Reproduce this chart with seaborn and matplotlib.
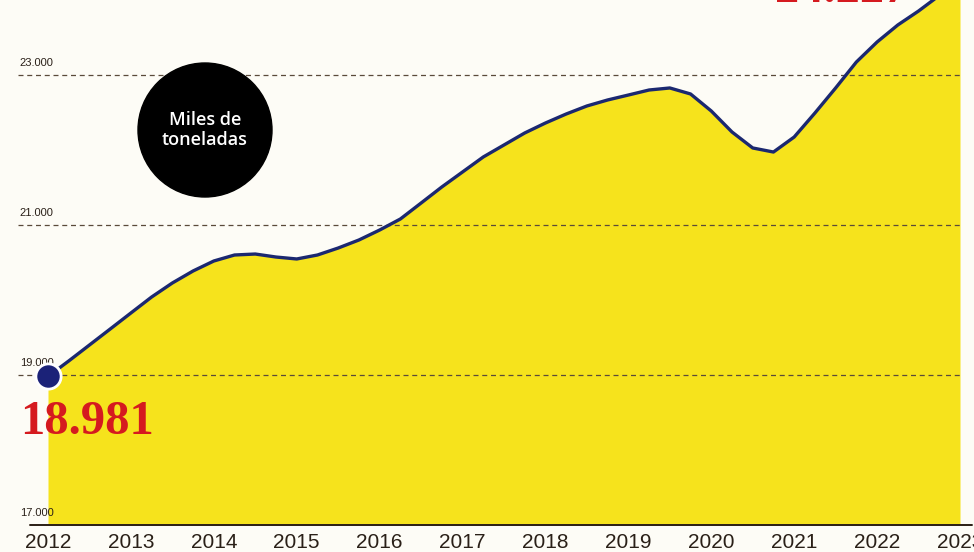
import numpy as np
import matplotlib.pyplot as plt
import seaborn as sns
import pandas as pd
from matplotlib.patches import Circle
from matplotlib.lines import Line2D

# quarter-year steps (miles de toneladas)
years = [2012.0 + 0.25 * i for i in range(45)]
values = [18981, 19187, 19400, 19613, 19827, 20040, 20227, 20387,
          20520, 20600, 20613, 20573, 20547, 20600, 20693, 20800,
          20933, 21080, 21293, 21507, 21707, 21907, 22067, 22227,
          22360, 22480, 22587, 22667, 22733, 22800, 22827, 22747,
          22520, 22240, 22027, 21973, 22173, 22493, 22827, 23173,
          23440, 23667, 23853, 24060, 24227]
tick_years = list(range(2012, 2024))
grid_vals = [17000, 19000, 21000, 23000]
grid_labels = ["17.000", "19.000", "21.000", "23.000"]
first_label = "18.981"
last_label = "24.227"

sns.set_style("white")
plt.rcParams['font.family'] = ['Open Sans', 'DejaVu Sans']

df = pd.DataFrame({"year": years, "value": values})

bg = "#fdfcf6"
fig = plt.figure(figsize=(9.74, 5.52), dpi=100, facecolor=bg)
ax = fig.add_axes([48 / 974, 27 / 552, 912 / 974, 525 / 552])
ax.set_facecolor(bg)

ax.fill_between(df["year"], df["value"], 17000, color="#f6e31c", lw=0, zorder=1)
sns.lineplot(data=df, x="year", y="value", ax=ax, color="#1b2870", lw=2.4,
             zorder=3)

ax.set_xlim(2012, 2023)
ax.set_ylim(17000, 24000)

# dashed guides + labels
for v in grid_vals[1:]:
    ax.axhline(v, xmin=-30 / 912, xmax=1.0, color="#5a4a3a", lw=0.9,
               ls=(0, (4, 3)), clip_on=False, zorder=2)
for v, lab in zip(grid_vals, grid_labels):
    ax.text(2011.66, v + 90, lab, fontsize=8, color="#2a2018", ha="left",
            va="bottom", zorder=5, clip_on=False,
            family=['Liberation Sans', 'DejaVu Sans'])

# bottom baseline
fig.add_artist(Line2D([30 / 974, 972 / 974], [27 / 552, 27 / 552],
                      color="#2a1e14", lw=1.4))

for s in ax.spines.values():
    s.set_visible(False)
ax.set_yticks([])
ax.set_xticks(tick_years)
ax.set_xticklabels([str(y) for y in tick_years], fontsize=15, color="#2a2018",
                   family=['Liberation Sans', 'DejaVu Sans'])
ax.tick_params(axis="x", length=0, pad=6)
ax.set_xlabel("")
ax.set_ylabel("")

# starting dot and label
ax.scatter([years[0]], [values[0]], s=330, color="#1b2278", edgecolor="white",
           linewidth=2, zorder=6, clip_on=False)
ax.text(2011.66, values[0] - 320, first_label, fontsize=35, fontweight="bold",
        color="#d51a1f", ha="left", va="top", zorder=7,
        family=['Liberation Serif', 'DejaVu Serif'])

# last value label, cut by the top edge
fig.text(775 / 974, 550 / 552, last_label, fontsize=35, fontweight="bold",
         color="#d51a1f", ha="left", va="baseline",
         family=['Liberation Serif', 'DejaVu Serif'])

# unit badge
fig.add_artist(Circle((2.05, 4.22), 0.67, transform=fig.dpi_scale_trans,
                      color="black", zorder=8))
fig.text(205 / 974, (552 - 130) / 552, "Miles de\ntoneladas", color="white",
         fontsize=13, fontweight="semibold", ha="center", va="center",
         linespacing=1.15, zorder=9)

fig.savefig("out.png", dpi=100, facecolor=bg)
